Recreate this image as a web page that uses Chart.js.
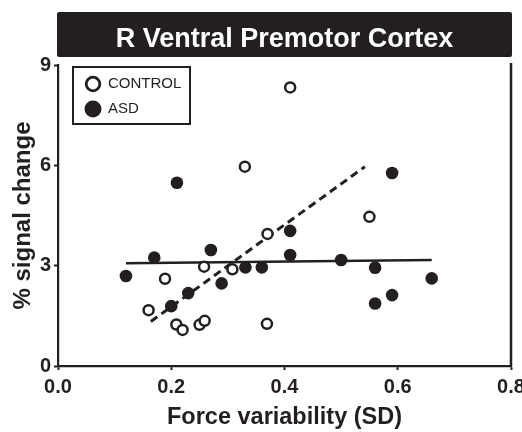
<!DOCTYPE html>
<html>
<head>
<meta charset="utf-8">
<script src="https://cdn.jsdelivr.net/npm/chart.js@4.4.1/dist/chart.umd.min.js"></script>
<style>
  html, body { margin: 0; padding: 0; background: #fff; }
  #wrap { width: 522px; height: 432px; }
</style>
</head>
<body>
<div id="wrap"><canvas id="chart" width="522" height="432"></canvas></div>
<script>
// values: x = force variability (SD), y = % signal change
const controlX = [0.41, 0.33, 0.55, 0.37, 0.258, 0.189, 0.308, 0.16, 0.209, 0.22, 0.25, 0.259, 0.369];
const controlY = [8.33, 5.96, 4.46, 3.95, 2.97, 2.61, 2.89, 1.67, 1.24, 1.08, 1.23, 1.35, 1.26];

const asdX = [0.12, 0.17, 0.27, 0.331, 0.36, 0.289, 0.23, 0.20, 0.41, 0.41, 0.50, 0.56, 0.66, 0.59, 0.56, 0.59, 0.21];
const asdY = [2.69, 3.24, 3.47, 2.95, 2.95, 2.47, 2.18, 1.79, 4.04, 3.32, 3.17, 2.94, 2.62, 2.12, 1.87, 5.77, 5.48];

// fitted lines (end points)
const controlFitX = [0.164, 0.542];
const controlFitY = [1.33, 5.96];
const asdFitX = [0.12, 0.66];
const asdFitY = [3.07, 3.17];

const xTicks = [0, 0.2, 0.4, 0.6, 0.8];
const yTicks = [0, 3, 6, 9];

const INK = '#231f20';
const FONT = '"Liberation Sans", Arial, Helvetica, sans-serif';

const toPoints = (xs, ys) => xs.map((x, i) => ({ x, y: ys[i] }));

// black title bar, box legend and the right frame line
const decorations = {
  id: 'decorations',
  afterDraw(chart) {
    const { ctx, chartArea: a } = chart;
    ctx.save();

    // title bar
    ctx.fillStyle = INK;
    ctx.beginPath();
    ctx.roundRect(a.left - 1, a.top - 53, a.right - a.left + 2, 45, 2);
    ctx.fill();
    ctx.fillStyle = '#fff';
    ctx.font = 'bold 27px ' + FONT;
    ctx.textAlign = 'center';
    ctx.textBaseline = 'alphabetic';
    ctx.fillText('R Ventral Premotor Cortex', (a.left + a.right) / 2, a.top - 18);

    // right frame
    ctx.strokeStyle = INK;
    ctx.lineWidth = 2.5;
    ctx.beginPath();
    ctx.moveTo(a.right, a.top - 2);
    ctx.lineTo(a.right, a.bottom);
    ctx.stroke();

    // legend
    const lx = a.left + 15, ly = a.top + 2;
    ctx.lineWidth = 2;
    ctx.strokeStyle = INK;
    ctx.fillStyle = '#fff';
    ctx.beginPath();
    ctx.rect(lx, ly, 117, 57);
    ctx.fill();
    ctx.stroke();

    const ds = chart.data.datasets;
    ctx.font = '15px ' + FONT;
    ctx.textAlign = 'left';
    ctx.textBaseline = 'middle';

    // CONTROL: open circle
    ctx.lineWidth = 2.8;
    ctx.beginPath();
    ctx.arc(lx + 20, ly + 17, 6.8, 0, Math.PI * 2);
    ctx.fillStyle = '#fff';
    ctx.fill();
    ctx.stroke();
    ctx.fillStyle = INK;
    ctx.fillText(ds[0].label, lx + 35, ly + 17);

    // ASD: filled circle
    ctx.beginPath();
    ctx.arc(lx + 20, ly + 42, 8.5, 0, Math.PI * 2);
    ctx.fill();
    ctx.fillText(ds[1].label, lx + 35, ly + 42);

    ctx.restore();
  }
};

new Chart(document.getElementById('chart'), {
  type: 'scatter',
  data: {
    datasets: [
      {
        label: 'CONTROL',
        data: toPoints(controlX, controlY),
        pointRadius: 5,
        pointHoverRadius: 5,
        pointBackgroundColor: '#fff',
        pointBorderColor: INK,
        pointBorderWidth: 2.5,
      },
      {
        label: 'ASD',
        data: toPoints(asdX, asdY),
        pointRadius: 6.3,
        pointHoverRadius: 6.3,
        pointBackgroundColor: INK,
        pointBorderColor: INK,
        pointBorderWidth: 0,
      },
      {
        type: 'line',
        label: 'control fit',
        data: toPoints(controlFitX, controlFitY),
        borderColor: INK,
        borderWidth: 3,
        borderDash: [8, 5],
        pointRadius: 0,
        fill: false,
      },
      {
        type: 'line',
        label: 'asd fit',
        data: toPoints(asdFitX, asdFitY),
        borderColor: INK,
        borderWidth: 2.5,
        pointRadius: 0,
        fill: false,
      },
    ],
  },
  options: {
    responsive: false,
    animation: false,
    layout: { padding: { top: 65, right: 11, left: 0, bottom: 0 } },
    plugins: {
      legend: { display: false },
      tooltip: { enabled: false },
    },
    scales: {
      x: {
        type: 'linear',
        min: 0,
        max: 0.8,
        afterBuildTicks: (scale) => { scale.ticks = xTicks.map((v) => ({ value: v })); },
        afterFit: (scale) => { scale.height = 66; scale.paddingLeft = 0; scale.paddingRight = 0; },
        border: { color: INK, width: 2.2 },
        grid: { drawOnChartArea: false, tickLength: 4, tickWidth: 2, tickColor: INK },
        ticks: {
          padding: 5,
          color: INK,
          font: { family: FONT, size: 20, weight: 'bold' },
          callback: (v) => v.toFixed(1),
        },
        title: {
          display: true,
          text: 'Force variability (SD)',
          color: INK,
          padding: { top: 0, bottom: 0 },
          font: { family: FONT, size: 23.5, weight: 'bold' },
        },
      },
      y: {
        type: 'linear',
        min: 0,
        max: 9,
        afterBuildTicks: (scale) => { scale.ticks = yTicks.map((v) => ({ value: v })); },
        afterFit: (scale) => { scale.width = 58; scale.paddingTop = 0; scale.paddingBottom = 0; },
        border: { color: INK, width: 2.2 },
        grid: { drawOnChartArea: false, tickLength: 4, tickWidth: 2, tickColor: INK },
        ticks: {
          padding: 3,
          color: INK,
          font: { family: FONT, size: 20, weight: 'bold' },
        },
        title: {
          display: true,
          text: '% signal change',
          color: INK,
          padding: { top: 9, bottom: 0 },
          font: { family: FONT, size: 24, weight: 'bold' },
        },
      },
    },
  },
  plugins: [decorations],
});
</script>
</body>
</html>
